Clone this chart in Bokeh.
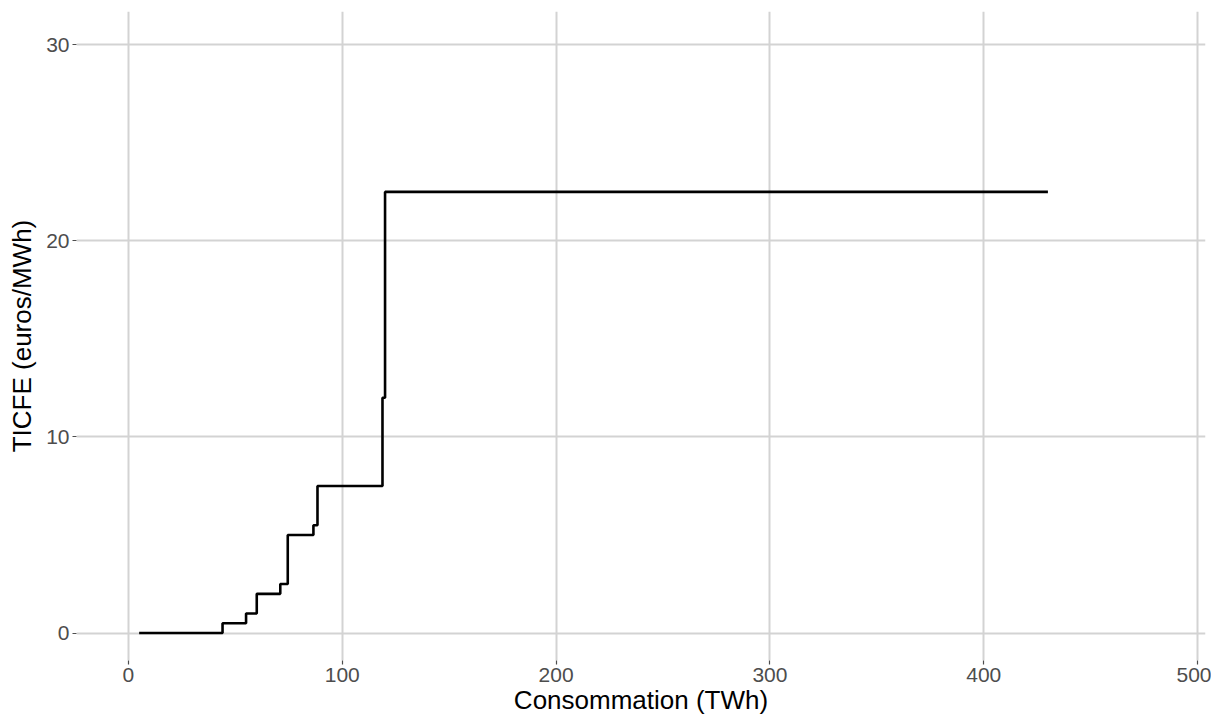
from bokeh.plotting import figure
from bokeh.embed import file_html
from bokeh.resources import INLINE
from bokeh.models import Range1d, FixedTicker

# Step curve: consumption breakpoints (TWh) and TICFE level (euros/MWh)
consommation = [5, 44, 55, 60, 71, 74.5, 86.5, 88.4, 118.8, 120, 430]
ticfe = [0, 0.5, 1, 2, 2.5, 5, 5.5, 7.5, 12, 22.5, 22.5]

x_ticks = [0, 100, 200, 300, 400, 500]
y_ticks = [0, 10, 20, 30]

p = figure(width=1211, height=720, output_backend="svg", toolbar_location=None,
           x_range=Range1d(-24.3, 503.7), y_range=Range1d(-1.4, 31.7),
           min_border_left=76, min_border_right=6, min_border_top=11, min_border_bottom=60)

p.step(consommation, ticfe, mode="after", line_color="black", line_width=2.6)

p.outline_line_color = None
p.background_fill_color = "white"
for ax in (p.xaxis[0], p.yaxis[0]):
    ax.axis_line_color = None
    ax.major_tick_line_color = "#4d4d4d"
    ax.major_tick_line_width = 1.2
    ax.major_tick_out = 4
    ax.major_tick_in = 0
    ax.minor_tick_line_color = None
    ax.major_label_text_color = "#4d4d4d"
    ax.major_label_text_font = "Liberation Sans"
    ax.major_label_text_font_size = "21px"
    ax.axis_label_text_font = "Liberation Sans"
    ax.axis_label_text_font_size = "26px"
    ax.axis_label_text_font_style = "normal"
    ax.axis_label_text_color = "black"
    ax.major_label_standoff = 3

p.xaxis.ticker = FixedTicker(ticks=x_ticks)
p.yaxis.ticker = FixedTicker(ticks=y_ticks)
p.xaxis.axis_label = "Consommation (TWh)"
p.yaxis.axis_label = "TICFE (euros/MWh)"
p.xaxis.axis_label_standoff = 0
p.yaxis.axis_label_standoff = 6

p.xgrid.grid_line_color = "#d3d3d3"
p.ygrid.grid_line_color = "#d3d3d3"
p.xgrid.grid_line_width = 2
p.ygrid.grid_line_width = 2
p.xgrid.ticker = FixedTicker(ticks=x_ticks)
p.ygrid.ticker = FixedTicker(ticks=y_ticks)

open("out.html", "w").write(file_html(p, INLINE))
